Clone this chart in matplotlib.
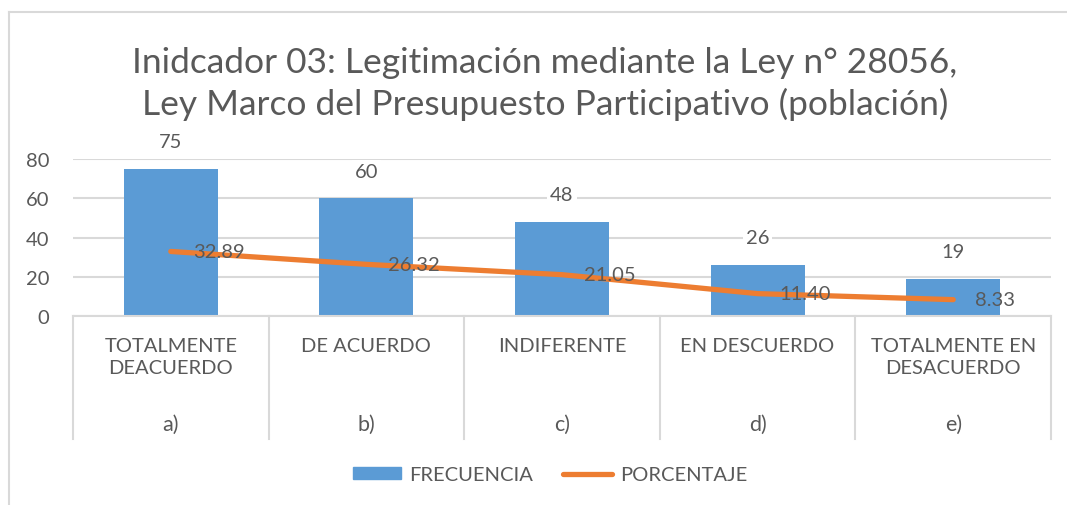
import matplotlib.pyplot as plt
from matplotlib.lines import Line2D
from matplotlib.patches import Patch

categories = ["TOTALMENTE\nDEACUERDO", "DE ACUERDO", "INDIFERENTE", "EN DESCUERDO", "TOTALMENTE EN\nDESACUERDO"]
letters = ["a)", "b)", "c)", "d)", "e)"]
frecuencia = [75, 60, 48, 26, 19]
porcentaje = [32.89, 26.32, 21.05, 11.40, 8.33]

TXT = "#595959"
GRID = "#D9D9D9"
BLUE = "#5B9BD5"
ORANGE = "#ED7D31"
FS = 14.5

plt.rcParams["font.family"] = ["Lato", "DejaVu Sans"]

W, H = 1067, 506
fig = plt.figure(figsize=(W / 100, H / 100), dpi=100)
ax = fig.add_axes([73 / W, 1 - 317 / H, (1051 - 73) / W, (317 - 160) / H])

x = list(range(len(categories)))
ax.bar(x, frecuencia, width=0.48, color=BLUE, zorder=2)
ax.plot(x, porcentaje, color=ORANGE, lw=3.8, solid_capstyle="round", solid_joinstyle="round", zorder=3)

for xi, v in zip(x, frecuencia):
    ax.annotate(str(v), (xi, v), xytext=(0, 27), textcoords="offset pixels",
                ha="center", va="center", fontsize=FS, color=TXT, zorder=4,
                bbox=dict(boxstyle="square,pad=0.15", fc="white", ec="none"))
for xi, v in zip(x, porcentaje):
    ax.annotate(f"{v:.2f}", (xi, v), xytext=(22, 0), textcoords="offset pixels",
                ha="left", va="center", fontsize=FS, color=TXT, zorder=4)

ax.set_xlim(-0.5, 4.5)
ax.set_ylim(0, 80)
ax.set_yticks([0, 20, 40, 60, 80])
ax.yaxis.grid(True, color=GRID, lw=1.5, zorder=0)
ax.set_axisbelow(True)
for s in ["left", "right", "top"]:
    ax.spines[s].set_visible(False)
ax.spines["bottom"].set_color(GRID)
ax.spines["bottom"].set_linewidth(1.5)
ax.set_xticks([])
ax.tick_params(axis="y", length=0, labelsize=FS, labelcolor=TXT, pad=17)

# category boxes
trans = ax.get_xaxis_transform()
span = 317 - 160
ybot = -(440 - 317) / span
for b in [-0.5, 0.5, 1.5, 2.5, 3.5, 4.5]:
    ax.add_line(Line2D([b, b], [0, ybot], transform=trans, color=GRID, lw=1.5, clip_on=False))
for xi, c, l in zip(x, categories, letters):
    ax.text(xi, -(338 - 317) / span, c, transform=trans, ha="center", va="top", fontsize=FS,
            color=TXT, linespacing=1.35, multialignment="center")
    ax.text(xi, -(425 - 317) / span, l, transform=trans, ha="center", va="center", fontsize=FS + 1, color=TXT)

fig.text(545 / W, 1 - 84 / H,
         "Inidcador 03: Legitimación mediante la Ley n° 28056,\nLey Marco del Presupuesto Participativo (población)",
         ha="center", va="center", fontsize=25.5, color=TXT, linespacing=1.36)

# chart border
fig.add_artist(Line2D([9 / W, 9 / W], [0, 1 - 13 / H], transform=fig.transFigure, color=GRID, lw=1.5))
fig.add_artist(Line2D([9 / W, 1], [1 - 13 / H, 1 - 13 / H], transform=fig.transFigure, color=GRID, lw=1.5))

handles = [Patch(color=BLUE, label="FRECUENCIA"),
           Line2D([0], [0], color=ORANGE, lw=3.8, solid_capstyle="round", label="PORCENTAJE")]
fig.legend(handles=handles, loc="center", bbox_to_anchor=(550 / W, 1 - 476 / H), ncol=2,
           frameon=False, fontsize=FS, labelcolor=TXT, handlelength=2.4, handleheight=0.55,
           columnspacing=1.5, handletextpad=0.4)

fig.savefig("out.png", dpi=100, facecolor="white")
